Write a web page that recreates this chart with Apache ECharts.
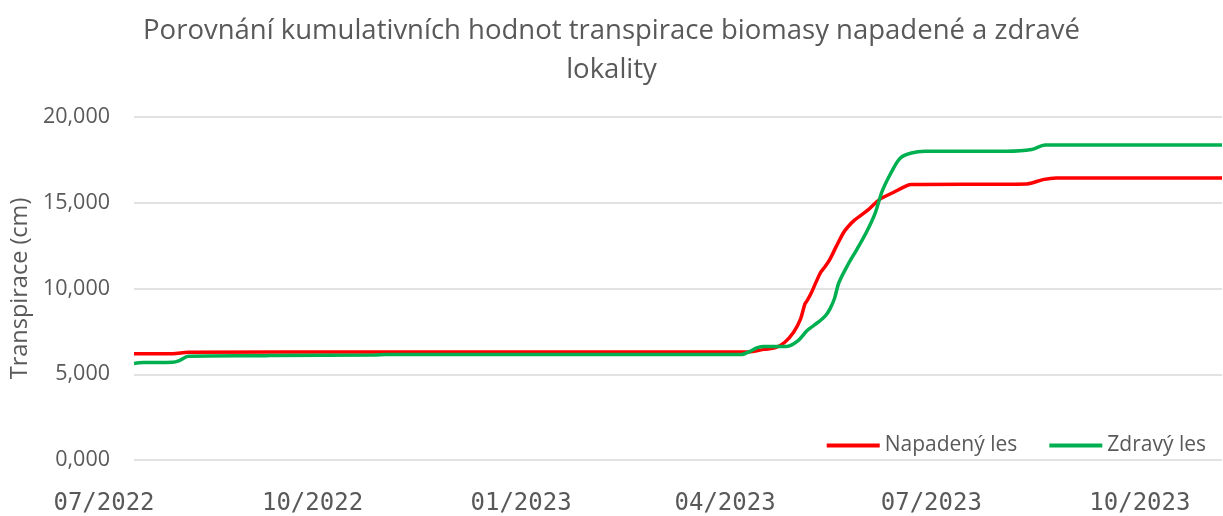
<!DOCTYPE html>
<html>
<head>
<meta charset="utf-8">
<script src="https://cdn.jsdelivr.net/npm/echarts@6/dist/echarts.min.js"></script>
<style>
html,body{margin:0;padding:0;background:#fff;}
#chart{width:1223px;height:516px;}
</style>
</head>
<body>
<div id="chart"></div>
<script>
var titleText = 'Porovnání kumulativních hodnot transpirace biomasy napadené a zdravé\nlokality';
var yAxisName = 'Transpirace (cm)';
var seriesNames = ['Napadený les', 'Zdravý les'];

var axisStart = '2022-07-01';
var axisEnd = '2023-10-24';
var tickDates = ['2022-07-01', '2022-10-01', '2023-01-01', '2023-04-01', '2023-07-01', '2023-10-01'];
var tickLabels = ['07/2022', '10/2022', '01/2023', '04/2023', '07/2023', '10/2023'];

var redDates = ['2022-07-01','2022-07-18','2022-07-25','2022-10-15','2023-03-29','2023-04-05','2023-04-10','2023-04-14','2023-04-18','2023-04-21','2023-04-23','2023-04-24','2023-04-26','2023-04-28','2023-04-30','2023-05-02','2023-05-04','2023-05-07','2023-05-10','2023-05-12','2023-05-15','2023-05-21','2023-05-26','2023-06-01','2023-06-07','2023-06-09','2023-07-30','2023-08-06','2023-08-12','2023-10-24'];
var redValues = [6.20,6.20,6.28,6.30,6.30,6.45,6.55,6.85,7.45,8.20,9.10,9.30,9.80,10.40,10.95,11.30,11.70,12.50,13.25,13.60,14.00,14.60,15.20,15.60,16.00,16.06,16.10,16.35,16.44,16.44];

var greenDates = ['2022-07-01','2022-07-05','2022-07-18','2022-07-21','2022-07-25','2022-08-28','2022-09-01','2022-10-15','2022-10-20','2023-03-26','2023-03-30','2023-04-02','2023-04-05','2023-04-15','2023-04-20','2023-04-24','2023-04-29','2023-05-02','2023-05-04','2023-05-06','2023-05-08','2023-05-12','2023-05-16','2023-05-20','2023-05-24','2023-05-27','2023-05-31','2023-06-04','2023-06-09','2023-06-15','2023-07-21','2023-08-01','2023-08-07','2023-10-24'];
var greenValues = [5.63,5.68,5.70,5.80,6.05,6.08,6.10,6.12,6.15,6.15,6.35,6.55,6.62,6.62,6.96,7.55,8.05,8.40,8.80,9.40,10.35,11.40,12.30,13.25,14.40,15.65,16.75,17.60,17.90,18.00,18.00,18.10,18.37,18.37];

var t0 = Date.parse(axisStart + 'T00:00:00Z');
function dayOf(d) { return Math.round((Date.parse(d + 'T00:00:00Z') - t0) / 864e5); }
function zip(d, v) { return d.map(function (x, i) { return [dayOf(x), v[i]]; }); }
var tickDays = tickDates.map(dayOf);

var chart = echarts.init(document.getElementById('chart'));
var font = 'Open Sans';
chart.setOption({
  animation: false,
  backgroundColor: '#ffffff',
  title: {
    text: titleText,
    left: 'center',
    top: 7,
    textStyle: { fontFamily: font, fontSize: 27.5, fontWeight: 'normal', color: '#595959', lineHeight: 39 }
  },
  legend: {
    data: seriesNames,
    right: 12,
    top: 430,
    icon: 'rect',
    itemWidth: 53,
    itemHeight: 4,
    itemGap: 32,
    textStyle: { fontFamily: font, fontSize: 21, color: '#595959' }
  },
  grid: { left: 134, right: 1, top: 117, bottom: 54, containLabel: false },
  xAxis: {
    type: 'value',
    min: 0,
    max: dayOf(axisEnd),
    axisLine: { show: false },
    axisTick: { show: false },
    splitLine: { show: false },
    axisLabel: {
      customValues: tickDays,
      formatter: function (v) {
        var i = tickDays.indexOf(Math.round(v));
        return i >= 0 ? tickLabels[i] : '';
      },
      fontFamily: 'DejaVu Sans Mono',
      fontSize: 24,
      color: '#595959',
      margin: 32,
      padding: [0, 60, 0, 0],
      showMinLabel: true,
      showMaxLabel: true
    }
  },
  yAxis: {
    type: 'value',
    min: 0,
    max: 20,
    interval: 5,
    name: yAxisName,
    nameLocation: 'middle',
    nameGap: 99,
    nameTextStyle: { fontFamily: font, fontSize: 23.5, color: '#595959' },
    axisLine: { show: false },
    axisTick: { show: false },
    splitLine: { lineStyle: { color: '#d9d9d9', width: 1.5 } },
    axisLabel: {
      formatter: function (v) { return v.toFixed(3).replace('.', ','); },
      fontFamily: font,
      fontSize: 21.5,
      color: '#595959',
      margin: 24
    }
  },
  series: [
    {
      name: seriesNames[0],
      type: 'line',
      data: zip(redDates, redValues),
      showSymbol: false,
      smooth: 0.3,
      lineStyle: { color: '#ff0000', width: 3.5 },
      itemStyle: { color: '#ff0000' },
      z: 2
    },
    {
      name: seriesNames[1],
      type: 'line',
      data: zip(greenDates, greenValues),
      showSymbol: false,
      smooth: 0.3,
      lineStyle: { color: '#00b050', width: 3.5 },
      itemStyle: { color: '#00b050' },
      z: 3
    }
  ]
});
</script>
</body>
</html>
